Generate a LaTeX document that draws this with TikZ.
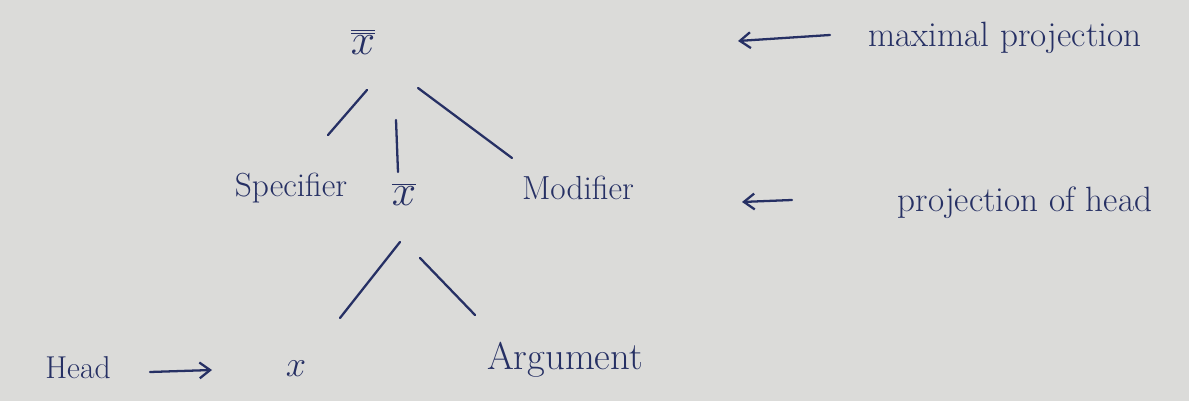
\documentclass[tikz,border=0pt]{standalone}
\usetikzlibrary{arrows.meta}
\definecolor{paper}{RGB}{219,219,217}
\definecolor{ink}{RGB}{38,48,100}
\begin{document}
\begin{tikzpicture}[x=0.02cm,y=-0.02cm,
  lbl/.style={text=ink,inner sep=1pt,font=\fontsize{18}{21}\selectfont},
  edge/.style={draw=ink,line width=1.3pt,line cap=round},
  arr/.style={draw=ink,line width=1.3pt,line cap=round,-{Straight Barb[length=6pt,width=9pt]}}]
\fill[paper] (0,0) rectangle (1189,401);
\useasboundingbox (0,0) rectangle (1189,401);
% nodes
\node[lbl,font=\fontsize{26}{30}\selectfont] (xbb) at (363,42) {$\overline{\overline{x}}$};
\node[lbl,font=\fontsize{19}{22}\selectfont] (spec) at (291,188) {Specifier};
\node[lbl,font=\fontsize{24}{28}\selectfont] (xb) at (404,194) {$\overline{x}$};
\node[lbl,font=\fontsize{19}{22}\selectfont] (mod) at (578,188) {Modifier};
\node[lbl] (head) at (78,368) {Head};
\node[lbl,font=\fontsize{22}{26}\selectfont] (x) at (296,369) {$x$};
\node[lbl,font=\fontsize{22}{26}\selectfont] (arg) at (565,360) {Argument};
\node[lbl,font=\fontsize{20}{24}\selectfont] (maxp) at (1005,38) {maximal projection};
\node[lbl,font=\fontsize{20}{24}\selectfont] (projh) at (1025,203) {projection of head};
% coordinates for connector ends
\coordinate (a1) at (367,90); \coordinate (a2) at (328,135);
\coordinate (b1) at (396,120); \coordinate (b2) at (398,172);
\coordinate (c1) at (418,88); \coordinate (c2) at (512,158);
\coordinate (d1) at (400,242); \coordinate (d2) at (340,318);
\coordinate (e1) at (420,258); \coordinate (e2) at (475,315);
\coordinate (h1) at (150,372); \coordinate (h2) at (212,370);
\coordinate (m1) at (830,35); \coordinate (m2) at (738,41);
\coordinate (p1) at (792,200); \coordinate (p2) at (742,202);
% connectors
\draw[edge] (a1) -- (a2);
\draw[edge] (b1) -- (b2);
\draw[edge] (c1) -- (c2);
\draw[edge] (d1) -- (d2);
\draw[edge] (e1) -- (e2);
\draw[arr] (h1) -- (h2);
\draw[arr] (m1) -- (m2);
\draw[arr] (p1) -- (p2);
\end{tikzpicture}
\end{document}
